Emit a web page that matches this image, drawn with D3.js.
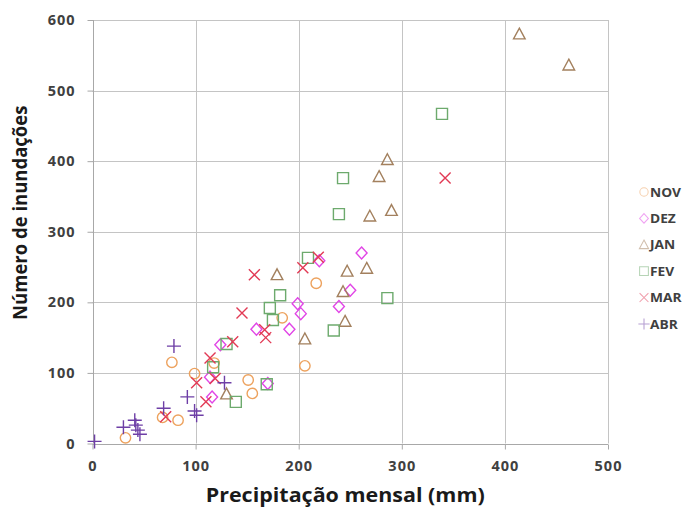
<!DOCTYPE html>
<html>
<head>
<meta charset="utf-8">
<script src="https://cdn.jsdelivr.net/npm/d3@7"></script>
<style>
  html, body { margin: 0; padding: 0; background: #fff; }
  svg { display: block; }
  text { font-family: "Open Sans", "Liberation Sans", sans-serif; font-weight: 700; }
</style>
</head>
<body>
<svg id="chart" width="700" height="509"></svg>
<script>
// Monthly rainfall (mm) vs. number of floods, one series per month
const months = ["NOV", "DEZ", "JAN", "FEV", "MAR", "ABR"];

const novPoints = [[32, 8], [68, 37], [77, 115], [83, 33], [99, 99], [118, 114], [151, 90], [155, 71], [184, 178], [206, 110], [217, 227]];
const dezPoints = [[116, 66], [114, 94], [124, 140], [159, 162], [170, 85], [191, 162], [199, 198], [202, 184], [220, 259], [239, 194], [250, 217], [261, 270]];
const janPoints = [[130, 70], [179, 239], [206, 148], [243, 215], [245, 173], [247, 244], [266, 248], [269, 322], [278, 378], [286, 402], [290, 330], [414, 580], [462, 536]];
const fevPoints = [[117, 108], [130, 141], [139, 59], [169, 84], [172, 192], [175, 175], [182, 210], [209, 263], [234, 160], [239, 325], [243, 376], [286, 206], [339, 467]];
const marPoints = [[71, 38], [101, 86], [110, 59], [114, 121], [119, 92], [136, 144], [145, 185], [157, 239], [167, 161], [168, 150], [204, 249], [219, 264], [342, 376]];
const abrPoints = [[2, 3], [30, 23], [41, 33], [42, 26], [44, 19], [46, 13], [69, 50], [79, 138], [92, 66], [99, 46], [101, 40], [128, 86]];

const xTicks = [0, 100, 200, 300, 400, 500];
const yTicks = [0, 100, 200, 300, 400, 500, 600];

const xTitle = "Precipitação mensal (mm)";
const yTitle = "Número de inundações";

const seriesData = [novPoints, dezPoints, janPoints, fevPoints, marPoints, abrPoints];
const colors = ["#EDA25E", "#E146E6", "#A3805E", "#6DAA6D", "#E23A55", "#6E3FA6"];
const shapes = ["circle", "diamond", "triangle", "square", "x", "plus"];

const svg = d3.select("#chart");
const margin = { left: 92.5, right: 92, top: 20, bottom: 65.5 };
const W = 700, H = 509;

const x = d3.scaleLinear().domain([0, 500]).range([margin.left, W - margin.right]);
const y = d3.scaleLinear().domain([0, 600]).range([H - margin.bottom, margin.top]);

// Marker outline paths centred on (0,0)
function shapePath(kind) {
  switch (kind) {
    case "circle": return d3.symbol(d3.symbolCircle, 85)();
    case "diamond": return "M0,-6L5.5,0L0,6L-5.5,0Z";
    case "triangle": return "M0,-6L5.8,4.8L-5.8,4.8Z";
    case "square": return "M-5.5,-5.5H5.5V5.5H-5.5Z";
    case "x": return "M-5.5,-5.5L5.5,5.5M5.5,-5.5L-5.5,5.5";
    case "plus": return "M-7,0H7M0,-7V7";
  }
}

// Grid
const grid = svg.append("g");
grid.selectAll("line.v").data(xTicks.slice(1)).join("line")
  .attr("x1", d => Math.round(x(d)) + 0.5).attr("x2", d => Math.round(x(d)) + 0.5)
  .attr("y1", y(600)).attr("y2", y(0))
  .attr("stroke", "#C4C4C4").attr("stroke-width", 1);
grid.selectAll("line.h").data(yTicks.slice(1)).join("line")
  .attr("x1", x(0)).attr("x2", x(500))
  .attr("y1", d => Math.round(y(d)) + 0.5).attr("y2", d => Math.round(y(d)) + 0.5)
  .attr("stroke", "#C4C4C4").attr("stroke-width", 1);

// Axes
const xAxis = d3.axisBottom(x).tickValues(xTicks).tickSize(5).tickPadding(11);
const yAxis = d3.axisLeft(y).tickValues(yTicks).tickSize(6).tickPadding(12);

const gx = svg.append("g").attr("transform", `translate(0,${Math.round(y(0)) + 0.5})`).call(xAxis);
const gy = svg.append("g").attr("transform", `translate(${Math.round(x(0)) + 0.5},0)`).call(yAxis);
[gx, gy].forEach(g => {
  g.select(".domain").attr("stroke", "#A8A8A8");
  g.selectAll(".tick line").attr("stroke", "#A8A8A8");
  g.selectAll(".tick text").attr("fill", "#404040")
    .style("font-size", "14.5px").style("font-weight", "700")
    .style("letter-spacing", "1px")
    .style("font-family", "'Open Sans', 'Liberation Sans', sans-serif");
});
gx.select(".domain").attr("d", `M${x(0)},0H${x(500)}`);
gy.select(".domain").attr("d", `M0,${y(0)}V${y(600)}`);

// Axis titles
svg.append("text")
  .attr("transform", `translate(${(x(0) + x(500)) / 2 - 5},502) scale(1.13,1)`)
  .attr("text-anchor", "middle").attr("fill", "#1a1a1a")
  .style("font-size", "19px")
  .text(xTitle);
svg.append("text")
  .attr("transform", `translate(27,${(y(0) + y(600)) / 2 - 19}) rotate(-90) scale(1,1.1)`)
  .attr("text-anchor", "middle").attr("fill", "#1a1a1a")
  .style("font-size", "18.5px")
  .text(yTitle);

// Points
seriesData.forEach((pts, i) => {
  svg.append("g").selectAll("path").data(pts).join("path")
    .attr("transform", d => `translate(${x(d[0])},${y(d[1])})`)
    .attr("d", shapePath(shapes[i]))
    .attr("fill", "none")
    .attr("stroke", colors[i])
    .attr("stroke-width", 1.4);
});

// Legend
const legend = svg.append("g");
months.forEach((m, i) => {
  const ly = 192 + i * 26.4;
  legend.append("path")
    .attr("transform", `translate(644,${ly}) scale(0.8)`)
    .attr("d", shapePath(shapes[i]))
    .attr("fill", "none").attr("stroke", colors[i])
    .attr("stroke-opacity", 0.5).attr("stroke-width", 1.3);
  legend.append("text")
    .attr("transform", `translate(650,${ly + 4.5}) scale(1.1,1)`)
    .attr("fill", "#404040").style("font-size", "12.5px")
    .text(m);
});
</script>
</body>
</html>
